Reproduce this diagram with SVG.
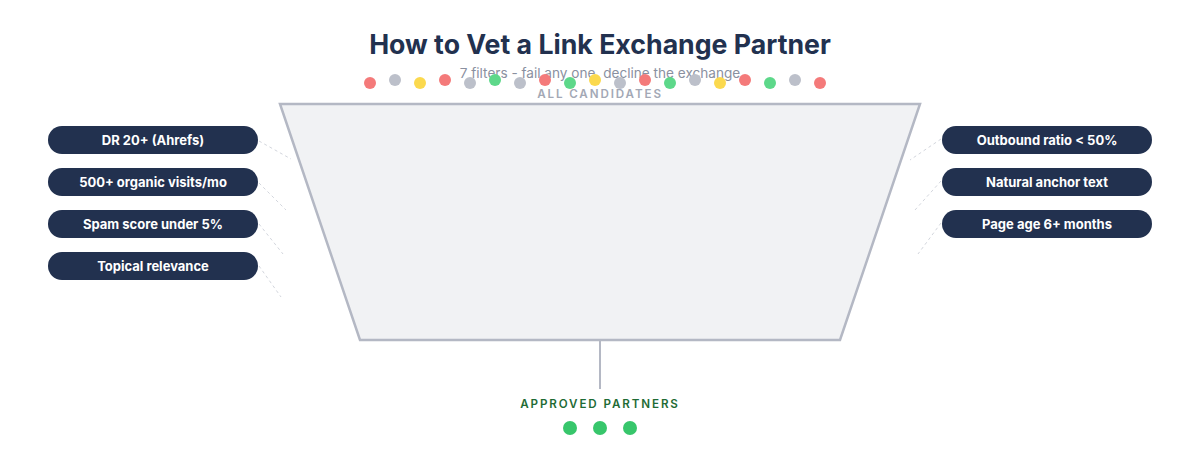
<svg xmlns="http://www.w3.org/2000/svg" width="1200" height="464" viewBox="0 0 1200 464">
<style>
.title{font-family:Inter,"Liberation Sans",sans-serif;font-size:26.7px;font-weight:700;fill:#22314f;text-anchor:middle}
.sub{font-family:Inter,"Liberation Sans",sans-serif;font-size:13.6px;fill:#8a90a0;text-anchor:middle}
.cap{font-family:Inter,"Liberation Sans",sans-serif;font-size:11.6px;font-weight:600;letter-spacing:1.9px;text-anchor:middle}
.pill{fill:#22314f}
.pt{font-family:Inter,"Liberation Sans",sans-serif;font-size:13px;font-weight:700;fill:#ffffff;text-anchor:middle}
.con{stroke:#d3d6dd;stroke-width:1;stroke-dasharray:3 3;fill:none}
.r{fill:#f47a7a}.g{fill:#bcc0ca}.y{fill:#fbd94e}.gr{fill:#5dd88a}
</style>
<rect width="1200" height="464" fill="#ffffff"/>
<text class="title" x="600" y="54">How to Vet a Link Exchange Partner</text>
<text class="sub" x="600" y="78">7 filters - fail any one, decline the exchange</text>
<g id="candidates">
<circle class="r" cx="370" cy="83" r="6"/>
<circle class="g" cx="395" cy="80" r="6"/>
<circle class="y" cx="420" cy="83" r="6"/>
<circle class="r" cx="445" cy="80" r="6"/>
<circle class="g" cx="470" cy="83" r="6"/>
<circle class="gr" cx="495" cy="80" r="6"/>
<circle class="g" cx="520" cy="83" r="6"/>
<circle class="r" cx="545" cy="80" r="6"/>
<circle class="gr" cx="570" cy="83" r="6"/>
<circle class="y" cx="595" cy="80" r="6"/>
<circle class="g" cx="620" cy="83" r="6"/>
<circle class="r" cx="645" cy="80" r="6"/>
<circle class="gr" cx="670" cy="83" r="6"/>
<circle class="g" cx="695" cy="80" r="6"/>
<circle class="y" cx="720" cy="83" r="6"/>
<circle class="r" cx="745" cy="80" r="6"/>
<circle class="gr" cx="770" cy="83" r="6"/>
<circle class="g" cx="795" cy="80" r="6"/>
<circle class="r" cx="820" cy="83" r="6"/>
<text class="cap" x="600" y="98" fill="#a3a8b5">ALL CANDIDATES</text>
</g>
<g id="funnel">
<polygon points="280,104 920,104 840,340 360,340" fill="#f1f2f4" stroke="#b4b8c4" stroke-width="2.5" stroke-linejoin="miter"/>
</g>
<g id="connectors">
<line class="con" x1="259" y1="141" x2="291" y2="159"/>
<line class="con" x1="259" y1="183" x2="286" y2="210"/>
<line class="con" x1="259" y1="224" x2="283" y2="254"/>
<line class="con" x1="259" y1="266" x2="281" y2="297"/>
<line class="con" x1="941" y1="139" x2="910" y2="160"/>
<line class="con" x1="941" y1="181" x2="915" y2="210"/>
<line class="con" x1="941" y1="223" x2="918" y2="254"/>
<line x1="600" y1="340" x2="600" y2="389" stroke="#b4b8c4" stroke-width="2"/>
</g>
<g id="f1"><rect class="pill" x="48" y="126" width="210" height="28" rx="14"/><text class="pt" x="153" y="145">DR 20+ (Ahrefs)</text></g>
<g id="f2"><rect class="pill" x="48" y="168" width="210" height="28" rx="14"/><text class="pt" x="153" y="187">500+ organic visits/mo</text></g>
<g id="f3"><rect class="pill" x="48" y="210" width="210" height="28" rx="14"/><text class="pt" x="153" y="229">Spam score under 5%</text></g>
<g id="f4"><rect class="pill" x="48" y="252" width="210" height="28" rx="14"/><text class="pt" x="153" y="271">Topical relevance</text></g>
<g id="f5"><rect class="pill" x="942" y="126" width="210" height="28" rx="14"/><text class="pt" x="1047" y="145">Outbound ratio &lt; 50%</text></g>
<g id="f6"><rect class="pill" x="942" y="168" width="210" height="28" rx="14"/><text class="pt" x="1047" y="187">Natural anchor text</text></g>
<g id="f7"><rect class="pill" x="942" y="210" width="210" height="28" rx="14"/><text class="pt" x="1047" y="229">Page age 6+ months</text></g>
<g id="approved">
<text class="cap" x="600" y="408" fill="#1e6b35">APPROVED PARTNERS</text>
<circle cx="570" cy="428" r="7" fill="#37c66b"/>
<circle cx="600" cy="428" r="7" fill="#37c66b"/>
<circle cx="630" cy="428" r="7" fill="#37c66b"/>
</g>
</svg>
